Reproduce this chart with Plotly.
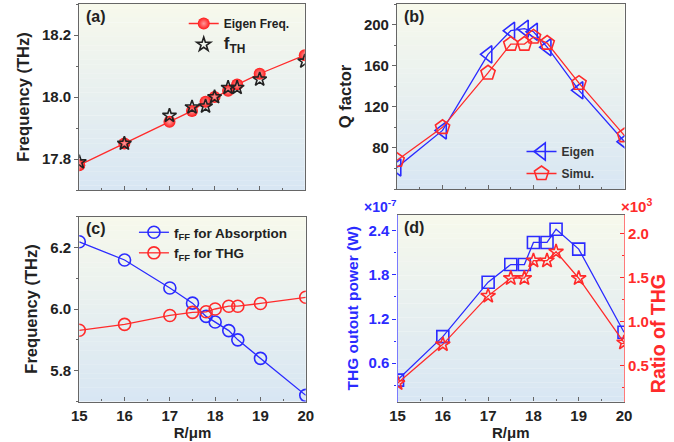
import plotly.graph_objects as go

# ---------------- data ----------------
R_a = [15, 16, 17, 17.5, 17.8, 18, 18.3, 18.5, 19, 20]
eigen_freq = [17.78, 17.85, 17.92, 17.955, 17.985, 18.0, 18.02, 18.04, 18.075, 18.135]
f_th = [17.79, 17.85, 17.94, 17.967, 17.97, 18.0, 18.03, 18.03, 18.057, 18.115]

R_b = [15, 16, 17, 17.5, 17.8, 18, 18.3, 19, 20]
q_eigen = [61, 97, 171, 194, 196, 193, 178, 136, 86]
q_simu = [68, 100, 153, 181, 181, 188, 182, 143, 92]

R_c = [15, 16, 17, 17.5, 17.8, 18, 18.3, 18.5, 19, 20]
f_abs = [6.218, 6.159, 6.068, 6.019, 5.976, 5.958, 5.93, 5.90, 5.84, 5.72]
f_thg = [5.931, 5.95, 5.979, 5.989, 5.991, 6.0, 6.009, 6.009, 6.018, 6.038]

R_d = [15, 16, 17, 17.5, 17.8, 18, 18.3, 18.5, 19, 20]
thg_power = [0.37, 0.96, 1.70, 1.94, 1.94, 2.24, 2.24, 2.42, 2.15, 1.02]   # x1e-7 W
thg_ratio = [0.30, 0.74, 1.29, 1.49, 1.49, 1.69, 1.69, 1.79, 1.49, 0.76]   # x1e3

x_ticks = [15, 16, 17, 18, 19, 20]

# ---------------- style ----------------
W, H = 674, 442
FONT = "Liberation Sans"
BLUE = "#2b2bff"
RED = "#ff2b2b"
FRAME = "#666666"

def px_x(p):
    return p / W

def px_y(p):
    return 1 - p / H

fig = go.Figure()

# (a)
fig.add_trace(go.Scatter(x=R_a, y=eigen_freq, mode="lines+markers", name="Eigen Freq.",
                         line=dict(color=RED, width=1.3),
                         marker=dict(symbol="circle", size=12, color="#ff1a1a",
                                     gradient=dict(type="radial", color="#ff9a9a"),
                                     line=dict(width=0)),
                         legendgroup="a1",
                         xaxis="x", yaxis="y", legend="legend"))
fig.add_trace(go.Scatter(x=R_a, y=f_th, mode="markers",
                         name="<span style='font-size:17px'>f<sub>TH</sub></span>",
                         marker=dict(symbol="star-open", size=10.5, color="#222222",
                                     line=dict(width=1.6)),
                         legendgroup="a2",
                         xaxis="x", yaxis="y", legend="legend"))
# (b)
fig.add_trace(go.Scatter(x=R_b, y=q_eigen, mode="lines+markers", name="Eigen",
                         line=dict(color=BLUE, width=1.3),
                         marker=dict(symbol="triangle-left-open", size=15, color=BLUE,
                                     line=dict(width=1.6)),
                         legendgroup="b1",
                         xaxis="x2", yaxis="y2", legend="legend2"))
fig.add_trace(go.Scatter(x=R_b, y=q_simu, mode="lines+markers", name="Simu.",
                         line=dict(color=RED, width=1.3),
                         marker=dict(symbol="pentagon-open", size=15, color=RED,
                                     line=dict(width=1.6)),
                         legendgroup="b2",
                         xaxis="x2", yaxis="y2", legend="legend2"))
# (c)
fig.add_trace(go.Scatter(x=R_c, y=f_abs, mode="lines+markers",
                         name="f<sub>FF</sub> for Absorption",
                         line=dict(color=BLUE, width=1.3),
                         marker=dict(symbol="circle-open", size=12, color=BLUE,
                                     line=dict(width=1.6)),
                         xaxis="x3", yaxis="y3", legend="legend3"))
fig.add_trace(go.Scatter(x=R_c, y=f_thg, mode="lines+markers",
                         name="f<sub>FF</sub> for THG",
                         line=dict(color=RED, width=1.3),
                         marker=dict(symbol="circle-open", size=12, color=RED,
                                     line=dict(width=1.6)),
                         xaxis="x3", yaxis="y3", legend="legend3"))
# (d)
fig.add_trace(go.Scatter(x=R_d, y=thg_power, mode="lines+markers", showlegend=False,
                         line=dict(color=BLUE, width=1.3),
                         marker=dict(symbol="square-open", size=12, color=BLUE,
                                     line=dict(width=1.6)),
                         xaxis="x4", yaxis="y4"))
fig.add_trace(go.Scatter(x=R_d, y=thg_ratio, mode="lines+markers", showlegend=False,
                         line=dict(color=RED, width=1.3),
                         marker=dict(symbol="star-open", size=11, color=RED,
                                     line=dict(width=1.6)),
                         xaxis="x4", yaxis="y5"))

tickfont = dict(family=FONT, size=15, color="#222222", weight="bold")
titlefont = dict(family=FONT, size=16.5, color="#222222", weight="bold")

def xax(domain, anchor, labels):
    return dict(domain=domain, anchor=anchor, range=[15, 20], tickvals=x_ticks,
                showticklabels=labels, ticks="inside", ticklen=4, tickcolor=FRAME,
                minor=dict(ticks="inside", ticklen=2, dtick=0.5, tickcolor=FRAME),
                showline=True, linecolor=FRAME, linewidth=1.2, mirror=True,
                showgrid=False, zeroline=False, tickfont=tickfont,
                title=dict(text="R/μm" if labels else "",
                           font=dict(family=FONT, size=15, color="#222222", weight="bold"),
                           standoff=1))

def yax(domain, anchor, rng, tickvals, minor_dtick, title, fmt, standoff=8):
    return dict(domain=domain, anchor=anchor, range=rng, tickvals=tickvals,
                tickformat=fmt,
                ticks="outside", ticklen=4, tickcolor=FRAME,
                minor=dict(ticks="outside", ticklen=2, dtick=minor_dtick, tickcolor=FRAME),
                showline=True, linecolor=FRAME, linewidth=1.2, mirror=True,
                showgrid=False, zeroline=False, tickfont=tickfont,
                title=dict(text=title, font=titlefont, standoff=standoff))

dom_xa = [px_x(73), px_x(304)]
dom_xb = [px_x(398.5), px_x(631.5)]
dom_xc = [px_x(73), px_x(305)]
dom_xd = [px_x(399), px_x(631)]
dom_ya = [px_y(190), px_y(4)]
dom_yb = [px_y(189), px_y(4)]
dom_yc = [px_y(401.5), px_y(216.5)]
dom_yd = [px_y(401.5), px_y(215)]

y4 = yax(dom_yd, "x4", [0.079, 2.613], [0.6, 1.2, 1.8, 2.4], 0.3,
         "THG outout power (W)", ".1f", 6)
y4.update(linecolor="#7a7aff", mirror=False, tickcolor=BLUE,
          tickfont=dict(family=FONT, size=15, color=BLUE, weight="bold"),
          title=dict(text="THG outout power (W)",
                     font=dict(family=FONT, size=15.5, color=BLUE, weight="bold"), standoff=6))
y4["minor"]["tickcolor"] = BLUE

y5 = dict(overlaying="y4", side="right", anchor="x4", range=[0.092, 2.207],
          tickvals=[0.5, 1.0, 1.5, 2.0], ticks="inside", ticklen=4, tickcolor=RED,
          minor=dict(ticks="inside", ticklen=2, dtick=0.25, tickcolor=RED),
          showline=True, linecolor="#ff7a7a", linewidth=1.2, showgrid=False, zeroline=False,
          tickformat=".1f",
          tickfont=dict(family=FONT, size=15, color=RED, weight="bold"))

x4 = xax(dom_xd, "y4", True)

fig.update_layout(
    width=W, height=H, margin=dict(l=0, r=0, t=0, b=0),
    paper_bgcolor="white", plot_bgcolor="rgba(0,0,0,0)",
    font=dict(family=FONT, size=12, color="#222222"),
    xaxis=xax(dom_xa, "y", False),
    xaxis2=xax(dom_xb, "y2", False),
    xaxis3=xax(dom_xc, "y3", True),
    xaxis4=x4,
    yaxis=yax(dom_ya, "x", [17.7, 18.3], [17.8, 18.0, 18.2], 0.1, "Frequency (THz)", ".1f", 8),
    yaxis2=yax(dom_yb, "x2", [40, 220], [80, 120, 160, 200], 20, "Q factor", "d", 8),
    yaxis3=yax(dom_yc, "x3", [5.7, 6.3], [5.8, 6.0, 6.2], 0.1, "Frequency (THz)", ".1f", 8),
    yaxis4=y4,
    yaxis5=y5,
    legend=dict(x=px_x(180), y=px_y(9), xanchor="left", yanchor="top",
                bgcolor="rgba(0,0,0,0)", itemwidth=30, tracegroupgap=2,
                font=dict(family=FONT, size=12, color="#222222", weight="bold")),
    legend2=dict(x=px_x(526), y=px_y(137), xanchor="left", yanchor="top",
                 bgcolor="rgba(0,0,0,0)", itemwidth=30, tracegroupgap=3,
                 font=dict(family=FONT, size=12, color="#333333", weight="bold")),
    legend3=dict(x=px_x(129), y=px_y(217), xanchor="left", yanchor="top",
                 bgcolor="rgba(0,0,0,0)", itemwidth=30,
                 font=dict(family=FONT, size=13.5, color="#222222", weight="bold")),
    showlegend=True,
)

# gradient backgrounds
def gradient(xr, yr, n=40, top=(247, 249, 236), bot=(216, 230, 243)):
    for i in range(n):
        t = (i + 0.5) / n
        c = tuple(int(round(top[k] + (bot[k] - top[k]) * t)) for k in range(3))
        fig.add_shape(type="rect", xref=xr + " domain", yref=yr + " domain",
                      x0=0, x1=1, y0=1 - (i + 1) / n, y1=1 - i / n + 0.001,
                      fillcolor="rgb(%d,%d,%d)" % c, line=dict(width=0), layer="below")

gradient("x", "y")
gradient("x2", "y2")
gradient("x3", "y3")
gradient("x4", "y4")

# panel labels
labfont = dict(family=FONT, size=16, color="#222222", weight="bold")
for xr, yr, lab in [("x", "y", "(a)"), ("x2", "y2", "(b)"), ("x3", "y3", "(c)"), ("x4", "y4", "(d)")]:
    fig.add_annotation(text=lab, xref=xr + " domain", yref=yr + " domain", x=0.02, y=0.99,
                       xanchor="left", yanchor="top", showarrow=False, font=labfont)

fig.add_annotation(text="×10<sup>-7</sup>", xref="paper", yref="paper",
                   x=px_x(400), y=px_y(217), xanchor="right", yanchor="bottom",
                   showarrow=False, font=dict(family=FONT, size=14, color=BLUE, weight="bold"))
fig.add_annotation(text="×10<sup>3</sup>", xref="paper", yref="paper",
                   x=px_x(626), y=px_y(217), xanchor="left", yanchor="bottom",
                   showarrow=False, font=dict(family=FONT, size=15, color=RED, weight="bold"))
# right axis title
fig.add_annotation(text="Ratio of THG", xref="paper", yref="paper",
                   x=px_x(666), y=px_y(334), xanchor="center", yanchor="middle",
                   textangle=-90, showarrow=False,
                   font=dict(family=FONT, size=19.5, color=RED, weight="bold"))

fig.write_html("out.html")
